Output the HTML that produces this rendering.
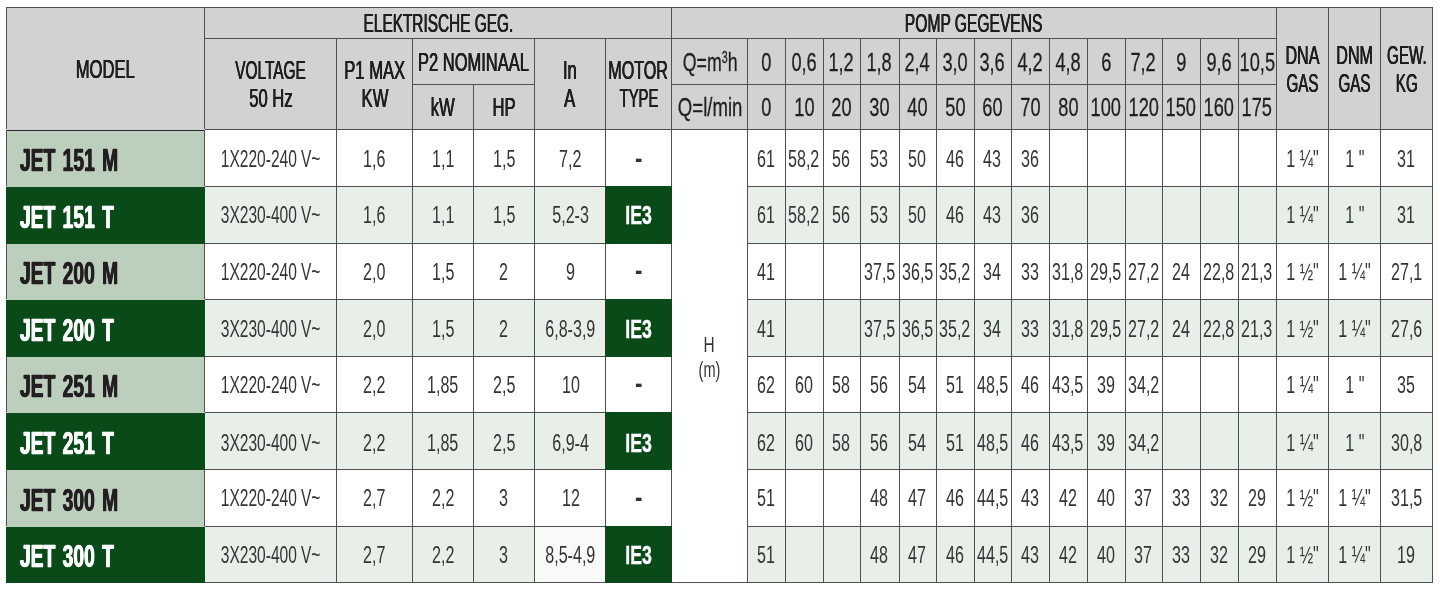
<!DOCTYPE html>
<html lang="nl">
<head>
<meta charset="utf-8">
<title>JET pomp gegevens</title>
<style>
html,body{margin:0;padding:0;background:#fff;}
body{width:1442px;height:591px;overflow:hidden;position:relative;font-family:"Liberation Sans",sans-serif;color:#343436;}
table{position:absolute;left:6px;top:7px;border-collapse:collapse;table-layout:fixed;width:1426px;}
td,th{border:1px solid #505052;padding:0;margin:0;font-weight:normal;overflow:visible;background:#fff;}
th{background:#d0d2d4;}
.c{display:flex;flex-direction:column;justify-content:center;align-items:center;width:100%;height:100%;white-space:nowrap;}
.t{display:block;transform-origin:50% 50%;font-size:23.3px;line-height:26px;text-align:center;flex:none;position:relative;}
th .t{font-size:26px;line-height:27.6px;color:#1f1f22;-webkit-text-stroke:.22px #1f1f22;text-shadow:.4px 0 0 #1f1f22,-.4px 0 0 #1f1f22;top:1px;}
th .t.d{text-shadow:none;-webkit-text-stroke:.28px #1f1f22;}
tr.alt td{background:#e8efe9;}
td.m{background:#bccfbd !important;}
td.m .c{align-items:flex-start;}
th.mh{border-bottom-color:#d0d2d4;}
tr.first td.m{background:linear-gradient(#2a2a2c,#2a2a2c) 0 0/100% 1px no-repeat,#bccfbd !important;}
td.m{border-bottom-color:#bccfbd;}
tr.alt td.m{border-bottom-color:#094a18;}
tr.alt td.m{border-left-color:#094a18;border-right-color:#094a18;}
td.m .t{font-weight:bold;font-size:30.5px;line-height:34px;transform-origin:0 50%;margin-left:13px;top:1.5px;word-spacing:3px;color:#231f20;-webkit-text-stroke:.3px #231f20;text-shadow:.6px 0 0 #231f20,-.6px 0 0 #231f20;}
tr.alt td.m{background:#094a18 !important;}
tr.alt td.m .t{color:#fff;-webkit-text-stroke:.3px #fff;text-shadow:.6px 0 0 #fff,-.6px 0 0 #fff;}
td.ie{background:#094a18 !important;border:1px double #094a18;}
td.ie .t{color:#fff;font-weight:bold;font-size:26px;-webkit-text-stroke:.4px #fff;}
td.v .t{word-spacing:-.5px;left:0;}
tr.alt td.w{background:#f7faf7;}
td .t{left:-.3px;}
td.p .t{left:-.8px;}
td.i .t{left:.6px;}
td.m .t,td.ie .t,td.dash .t{left:0;}
tr.r1 td:not(.m):not(.h) .t{top:1px;}
tr.r4 td:not(.m) .t{top:.5px;}
tr.r6 td:not(.m) .t{top:1.5px;}
th .t.d{left:-.6px;}
th .t.q{left:.5px;-webkit-text-stroke:.3px #1f1f22;}
td.h{background:#fff !important;}
td.h .t{font-size:22px;line-height:25px;top:1px;}
td.dash .t{font-weight:bold;font-size:28px;top:-.5px;}
sup{font-size:60%;vertical-align:baseline;position:relative;top:-.5em;line-height:0;}
</style>
</head>
<body>
<table>
<colgroup>
<col style="width:198px"><col style="width:132px"><col style="width:76px"><col style="width:61px"><col style="width:61px"><col style="width:71px"><col style="width:66px"><col style="width:76px"><col style="width:38px"><col style="width:38px"><col style="width:37px"><col style="width:39px"><col style="width:37px"><col style="width:38px"><col style="width:37px"><col style="width:38px"><col style="width:38px"><col style="width:38px"><col style="width:37px"><col style="width:38px"><col style="width:38px"><col style="width:38px"><col style="width:52px"><col style="width:52px"><col style="width:52px">
</colgroup>
<tr style="height:31px"><th class="mh" rowspan="3"><div class="c"><span class="t" style="transform:scaleX(0.640)">MODEL</span></div></th><th colspan="6"><div class="c"><span class="t" style="transform:scaleX(0.592)">ELEKTRISCHE GEG.</span></div></th><th colspan="15"><div class="c"><span class="t" style="transform:scaleX(0.600)">POMP GEGEVENS</span></div></th><th rowspan="3"><div class="c"><span class="t" style="transform:scaleX(0.620)">DNA</span><span class="t" style="transform:scaleX(0.585)">GAS</span></div></th><th rowspan="3"><div class="c"><span class="t" style="transform:scaleX(0.620)">DNM</span><span class="t" style="transform:scaleX(0.585)">GAS</span></div></th><th rowspan="3"><div class="c"><span class="t" style="transform:scaleX(0.585)">GEW.</span><span class="t" style="transform:scaleX(0.585)">KG</span></div></th></tr>
<tr style="height:46px"><th rowspan="2"><div class="c"><span class="t" style="transform:scaleX(0.593)">VOLTAGE</span><span class="t" style="transform:scaleX(0.640)">50 Hz</span></div></th><th rowspan="2"><div class="c"><span class="t" style="transform:scaleX(0.639)">P1 MAX</span><span class="t" style="transform:scaleX(0.640)">KW</span></div></th><th colspan="2"><div class="c"><span class="t" style="transform:scaleX(0.634)">P2 NOMINAAL</span></div></th><th rowspan="2"><div class="c"><span class="t" style="transform:scaleX(0.640)">In</span><span class="t" style="transform:scaleX(0.640)">A</span></div></th><th rowspan="2"><div class="c"><span class="t" style="transform:scaleX(0.620)">MOTOR</span><span class="t" style="transform:scaleX(0.570)">TYPE</span></div></th><th><div class="c"><span class="t d q" style="transform:scaleX(0.683)">Q=m<sup>3</sup>h</span></div></th><th><div class="c"><span class="t d" style="transform:scaleX(0.700)">0</span></div></th><th><div class="c"><span class="t d" style="transform:scaleX(0.700)">0,6</span></div></th><th><div class="c"><span class="t d" style="transform:scaleX(0.700)">1,2</span></div></th><th><div class="c"><span class="t d" style="transform:scaleX(0.700)">1,8</span></div></th><th><div class="c"><span class="t d" style="transform:scaleX(0.700)">2,4</span></div></th><th><div class="c"><span class="t d" style="transform:scaleX(0.700)">3,0</span></div></th><th><div class="c"><span class="t d" style="transform:scaleX(0.700)">3,6</span></div></th><th><div class="c"><span class="t d" style="transform:scaleX(0.700)">4,2</span></div></th><th><div class="c"><span class="t d" style="transform:scaleX(0.700)">4,8</span></div></th><th><div class="c"><span class="t d" style="transform:scaleX(0.700)">6</span></div></th><th><div class="c"><span class="t d" style="transform:scaleX(0.700)">7,2</span></div></th><th><div class="c"><span class="t d" style="transform:scaleX(0.700)">9</span></div></th><th><div class="c"><span class="t d" style="transform:scaleX(0.700)">9,6</span></div></th><th><div class="c"><span class="t d" style="transform:scaleX(0.700)">10,5</span></div></th></tr>
<tr style="height:45px"><th><div class="c"><span class="t" style="transform:scaleX(0.640)">kW</span></div></th><th><div class="c"><span class="t" style="transform:scaleX(0.640)">HP</span></div></th><th><div class="c"><span class="t d q" style="transform:scaleX(0.715)">Q=l/min</span></div></th><th><div class="c"><span class="t d" style="transform:scaleX(0.700)">0</span></div></th><th><div class="c"><span class="t d" style="transform:scaleX(0.700)">10</span></div></th><th><div class="c"><span class="t d" style="transform:scaleX(0.700)">20</span></div></th><th><div class="c"><span class="t d" style="transform:scaleX(0.700)">30</span></div></th><th><div class="c"><span class="t d" style="transform:scaleX(0.700)">40</span></div></th><th><div class="c"><span class="t d" style="transform:scaleX(0.700)">50</span></div></th><th><div class="c"><span class="t d" style="transform:scaleX(0.700)">60</span></div></th><th><div class="c"><span class="t d" style="transform:scaleX(0.700)">70</span></div></th><th><div class="c"><span class="t d" style="transform:scaleX(0.700)">80</span></div></th><th><div class="c"><span class="t d" style="transform:scaleX(0.700)">100</span></div></th><th><div class="c"><span class="t d" style="transform:scaleX(0.700)">120</span></div></th><th><div class="c"><span class="t d" style="transform:scaleX(0.700)">150</span></div></th><th><div class="c"><span class="t d" style="transform:scaleX(0.700)">160</span></div></th><th><div class="c"><span class="t d" style="transform:scaleX(0.700)">175</span></div></th></tr>
<tr class="first r1" style="height:57px"><td class="m"><div class="c"><span class="t" style="transform:scaleX(0.632)">JET 151 M</span></div></td><td class="v"><div class="c"><span class="t" style="transform:scaleX(0.668)">1X220-240 V~</span></div></td><td><div class="c"><span class="t" style="transform:scaleX(0.690)">1,6</span></div></td><td><div class="c"><span class="t" style="transform:scaleX(0.690)">1,1</span></div></td><td><div class="c"><span class="t" style="transform:scaleX(0.690)">1,5</span></div></td><td class="i"><div class="c"><span class="t" style="transform:scaleX(0.690)">7,2</span></div></td><td class="dash"><div class="c"><span class="t" style="transform:scaleX(0.800)">-</span></div></td><td class="h" rowspan="8"><div class="c"><span class="t" style="transform:scaleX(0.700)">H</span><span class="t" style="transform:scaleX(0.660)">(m)</span></div></td><td class="p"><div class="c"><span class="t" style="transform:scaleX(0.690)">61</span></div></td><td class="p"><div class="c"><span class="t" style="transform:scaleX(0.690)">58,2</span></div></td><td class="p"><div class="c"><span class="t" style="transform:scaleX(0.690)">56</span></div></td><td class="p"><div class="c"><span class="t" style="transform:scaleX(0.690)">53</span></div></td><td class="p"><div class="c"><span class="t" style="transform:scaleX(0.690)">50</span></div></td><td class="p"><div class="c"><span class="t" style="transform:scaleX(0.690)">46</span></div></td><td class="p"><div class="c"><span class="t" style="transform:scaleX(0.690)">43</span></div></td><td class="p"><div class="c"><span class="t" style="transform:scaleX(0.690)">36</span></div></td><td class="p"></td><td class="p"></td><td class="p"></td><td class="p"></td><td class="p"></td><td class="p"></td><td><div class="c"><span class="t" style="transform:scaleX(0.690)">1 ¼&quot;</span></div></td><td><div class="c"><span class="t" style="transform:scaleX(0.690)">1 &quot;</span></div></td><td><div class="c"><span class="t" style="transform:scaleX(0.690)">31</span></div></td></tr>
<tr class="alt r2" style="height:57px"><td class="m"><div class="c"><span class="t" style="transform:scaleX(0.632)">JET 151 T</span></div></td><td class="v"><div class="c"><span class="t" style="transform:scaleX(0.668)">3X230-400 V~</span></div></td><td><div class="c"><span class="t" style="transform:scaleX(0.690)">1,6</span></div></td><td><div class="c"><span class="t" style="transform:scaleX(0.690)">1,1</span></div></td><td><div class="c"><span class="t" style="transform:scaleX(0.690)">1,5</span></div></td><td class="i"><div class="c"><span class="t" style="transform:scaleX(0.690)">5,2-3</span></div></td><td class="ie"><div class="c"><span class="t" style="transform:scaleX(0.680)">IE3</span></div></td><td class="p"><div class="c"><span class="t" style="transform:scaleX(0.690)">61</span></div></td><td class="p"><div class="c"><span class="t" style="transform:scaleX(0.690)">58,2</span></div></td><td class="p"><div class="c"><span class="t" style="transform:scaleX(0.690)">56</span></div></td><td class="p"><div class="c"><span class="t" style="transform:scaleX(0.690)">53</span></div></td><td class="p"><div class="c"><span class="t" style="transform:scaleX(0.690)">50</span></div></td><td class="p"><div class="c"><span class="t" style="transform:scaleX(0.690)">46</span></div></td><td class="p"><div class="c"><span class="t" style="transform:scaleX(0.690)">43</span></div></td><td class="p"><div class="c"><span class="t" style="transform:scaleX(0.690)">36</span></div></td><td class="p"></td><td class="p"></td><td class="p"></td><td class="p"></td><td class="p"></td><td class="p"></td><td><div class="c"><span class="t" style="transform:scaleX(0.690)">1 ¼&quot;</span></div></td><td><div class="c"><span class="t" style="transform:scaleX(0.690)">1 &quot;</span></div></td><td><div class="c"><span class="t" style="transform:scaleX(0.690)">31</span></div></td></tr>
<tr class="r3" style="height:56px"><td class="m"><div class="c"><span class="t" style="transform:scaleX(0.632)">JET 200 M</span></div></td><td class="v"><div class="c"><span class="t" style="transform:scaleX(0.668)">1X220-240 V~</span></div></td><td><div class="c"><span class="t" style="transform:scaleX(0.690)">2,0</span></div></td><td><div class="c"><span class="t" style="transform:scaleX(0.690)">1,5</span></div></td><td><div class="c"><span class="t" style="transform:scaleX(0.690)">2</span></div></td><td class="i"><div class="c"><span class="t" style="transform:scaleX(0.690)">9</span></div></td><td class="dash"><div class="c"><span class="t" style="transform:scaleX(0.800)">-</span></div></td><td class="p"><div class="c"><span class="t" style="transform:scaleX(0.690)">41</span></div></td><td class="p"></td><td class="p"></td><td class="p"><div class="c"><span class="t" style="transform:scaleX(0.690)">37,5</span></div></td><td class="p"><div class="c"><span class="t" style="transform:scaleX(0.690)">36,5</span></div></td><td class="p"><div class="c"><span class="t" style="transform:scaleX(0.690)">35,2</span></div></td><td class="p"><div class="c"><span class="t" style="transform:scaleX(0.690)">34</span></div></td><td class="p"><div class="c"><span class="t" style="transform:scaleX(0.690)">33</span></div></td><td class="p"><div class="c"><span class="t" style="transform:scaleX(0.690)">31,8</span></div></td><td class="p"><div class="c"><span class="t" style="transform:scaleX(0.690)">29,5</span></div></td><td class="p"><div class="c"><span class="t" style="transform:scaleX(0.690)">27,2</span></div></td><td class="p"><div class="c"><span class="t" style="transform:scaleX(0.690)">24</span></div></td><td class="p"><div class="c"><span class="t" style="transform:scaleX(0.690)">22,8</span></div></td><td class="p"><div class="c"><span class="t" style="transform:scaleX(0.690)">21,3</span></div></td><td><div class="c"><span class="t" style="transform:scaleX(0.690)">1 ½&quot;</span></div></td><td><div class="c"><span class="t" style="transform:scaleX(0.690)">1 ¼&quot;</span></div></td><td><div class="c"><span class="t" style="transform:scaleX(0.690)">27,1</span></div></td></tr>
<tr class="alt r4" style="height:57px"><td class="m"><div class="c"><span class="t" style="transform:scaleX(0.632)">JET 200 T</span></div></td><td class="v"><div class="c"><span class="t" style="transform:scaleX(0.668)">3X230-400 V~</span></div></td><td><div class="c"><span class="t" style="transform:scaleX(0.690)">2,0</span></div></td><td><div class="c"><span class="t" style="transform:scaleX(0.690)">1,5</span></div></td><td><div class="c"><span class="t" style="transform:scaleX(0.690)">2</span></div></td><td class="i"><div class="c"><span class="t" style="transform:scaleX(0.690)">6,8-3,9</span></div></td><td class="ie"><div class="c"><span class="t" style="transform:scaleX(0.680)">IE3</span></div></td><td class="p"><div class="c"><span class="t" style="transform:scaleX(0.690)">41</span></div></td><td class="p"></td><td class="p"></td><td class="p"><div class="c"><span class="t" style="transform:scaleX(0.690)">37,5</span></div></td><td class="p"><div class="c"><span class="t" style="transform:scaleX(0.690)">36,5</span></div></td><td class="p"><div class="c"><span class="t" style="transform:scaleX(0.690)">35,2</span></div></td><td class="p"><div class="c"><span class="t" style="transform:scaleX(0.690)">34</span></div></td><td class="p"><div class="c"><span class="t" style="transform:scaleX(0.690)">33</span></div></td><td class="p"><div class="c"><span class="t" style="transform:scaleX(0.690)">31,8</span></div></td><td class="p"><div class="c"><span class="t" style="transform:scaleX(0.690)">29,5</span></div></td><td class="p"><div class="c"><span class="t" style="transform:scaleX(0.690)">27,2</span></div></td><td class="p"><div class="c"><span class="t" style="transform:scaleX(0.690)">24</span></div></td><td class="p"><div class="c"><span class="t" style="transform:scaleX(0.690)">22,8</span></div></td><td class="p"><div class="c"><span class="t" style="transform:scaleX(0.690)">21,3</span></div></td><td><div class="c"><span class="t" style="transform:scaleX(0.690)">1 ½&quot;</span></div></td><td><div class="c"><span class="t" style="transform:scaleX(0.690)">1 ¼&quot;</span></div></td><td><div class="c"><span class="t" style="transform:scaleX(0.690)">27,6</span></div></td></tr>
<tr class="r5" style="height:56px"><td class="m"><div class="c"><span class="t" style="transform:scaleX(0.632)">JET 251 M</span></div></td><td class="v"><div class="c"><span class="t" style="transform:scaleX(0.668)">1X220-240 V~</span></div></td><td><div class="c"><span class="t" style="transform:scaleX(0.690)">2,2</span></div></td><td><div class="c"><span class="t" style="transform:scaleX(0.690)">1,85</span></div></td><td><div class="c"><span class="t" style="transform:scaleX(0.690)">2,5</span></div></td><td class="i"><div class="c"><span class="t" style="transform:scaleX(0.690)">10</span></div></td><td class="dash"><div class="c"><span class="t" style="transform:scaleX(0.800)">-</span></div></td><td class="p"><div class="c"><span class="t" style="transform:scaleX(0.690)">62</span></div></td><td class="p"><div class="c"><span class="t" style="transform:scaleX(0.690)">60</span></div></td><td class="p"><div class="c"><span class="t" style="transform:scaleX(0.690)">58</span></div></td><td class="p"><div class="c"><span class="t" style="transform:scaleX(0.690)">56</span></div></td><td class="p"><div class="c"><span class="t" style="transform:scaleX(0.690)">54</span></div></td><td class="p"><div class="c"><span class="t" style="transform:scaleX(0.690)">51</span></div></td><td class="p"><div class="c"><span class="t" style="transform:scaleX(0.690)">48,5</span></div></td><td class="p"><div class="c"><span class="t" style="transform:scaleX(0.690)">46</span></div></td><td class="p"><div class="c"><span class="t" style="transform:scaleX(0.690)">43,5</span></div></td><td class="p"><div class="c"><span class="t" style="transform:scaleX(0.690)">39</span></div></td><td class="p"><div class="c"><span class="t" style="transform:scaleX(0.690)">34,2</span></div></td><td class="p"></td><td class="p"></td><td class="p"></td><td><div class="c"><span class="t" style="transform:scaleX(0.690)">1 ¼&quot;</span></div></td><td><div class="c"><span class="t" style="transform:scaleX(0.690)">1 &quot;</span></div></td><td><div class="c"><span class="t" style="transform:scaleX(0.690)">35</span></div></td></tr>
<tr class="alt r6" style="height:57px"><td class="m"><div class="c"><span class="t" style="transform:scaleX(0.632)">JET 251 T</span></div></td><td class="v"><div class="c"><span class="t" style="transform:scaleX(0.668)">3X230-400 V~</span></div></td><td><div class="c"><span class="t" style="transform:scaleX(0.690)">2,2</span></div></td><td><div class="c"><span class="t" style="transform:scaleX(0.690)">1,85</span></div></td><td><div class="c"><span class="t" style="transform:scaleX(0.690)">2,5</span></div></td><td class="i"><div class="c"><span class="t" style="transform:scaleX(0.690)">6,9-4</span></div></td><td class="ie"><div class="c"><span class="t" style="transform:scaleX(0.680)">IE3</span></div></td><td class="p"><div class="c"><span class="t" style="transform:scaleX(0.690)">62</span></div></td><td class="p"><div class="c"><span class="t" style="transform:scaleX(0.690)">60</span></div></td><td class="p"><div class="c"><span class="t" style="transform:scaleX(0.690)">58</span></div></td><td class="p"><div class="c"><span class="t" style="transform:scaleX(0.690)">56</span></div></td><td class="p"><div class="c"><span class="t" style="transform:scaleX(0.690)">54</span></div></td><td class="p"><div class="c"><span class="t" style="transform:scaleX(0.690)">51</span></div></td><td class="p"><div class="c"><span class="t" style="transform:scaleX(0.690)">48,5</span></div></td><td class="p"><div class="c"><span class="t" style="transform:scaleX(0.690)">46</span></div></td><td class="p"><div class="c"><span class="t" style="transform:scaleX(0.690)">43,5</span></div></td><td class="p"><div class="c"><span class="t" style="transform:scaleX(0.690)">39</span></div></td><td class="p"><div class="c"><span class="t" style="transform:scaleX(0.690)">34,2</span></div></td><td class="p"></td><td class="p"></td><td class="p"></td><td><div class="c"><span class="t" style="transform:scaleX(0.690)">1 ¼&quot;</span></div></td><td><div class="c"><span class="t" style="transform:scaleX(0.690)">1 &quot;</span></div></td><td><div class="c"><span class="t" style="transform:scaleX(0.690)">30,8</span></div></td></tr>
<tr class="r7" style="height:57px"><td class="m"><div class="c"><span class="t" style="transform:scaleX(0.632)">JET 300 M</span></div></td><td class="v"><div class="c"><span class="t" style="transform:scaleX(0.668)">1X220-240 V~</span></div></td><td><div class="c"><span class="t" style="transform:scaleX(0.690)">2,7</span></div></td><td><div class="c"><span class="t" style="transform:scaleX(0.690)">2,2</span></div></td><td><div class="c"><span class="t" style="transform:scaleX(0.690)">3</span></div></td><td class="i"><div class="c"><span class="t" style="transform:scaleX(0.690)">12</span></div></td><td class="dash"><div class="c"><span class="t" style="transform:scaleX(0.800)">-</span></div></td><td class="p"><div class="c"><span class="t" style="transform:scaleX(0.690)">51</span></div></td><td class="p"></td><td class="p"></td><td class="p"><div class="c"><span class="t" style="transform:scaleX(0.690)">48</span></div></td><td class="p"><div class="c"><span class="t" style="transform:scaleX(0.690)">47</span></div></td><td class="p"><div class="c"><span class="t" style="transform:scaleX(0.690)">46</span></div></td><td class="p"><div class="c"><span class="t" style="transform:scaleX(0.690)">44,5</span></div></td><td class="p"><div class="c"><span class="t" style="transform:scaleX(0.690)">43</span></div></td><td class="p"><div class="c"><span class="t" style="transform:scaleX(0.690)">42</span></div></td><td class="p"><div class="c"><span class="t" style="transform:scaleX(0.690)">40</span></div></td><td class="p"><div class="c"><span class="t" style="transform:scaleX(0.690)">37</span></div></td><td class="p"><div class="c"><span class="t" style="transform:scaleX(0.690)">33</span></div></td><td class="p"><div class="c"><span class="t" style="transform:scaleX(0.690)">32</span></div></td><td class="p"><div class="c"><span class="t" style="transform:scaleX(0.690)">29</span></div></td><td><div class="c"><span class="t" style="transform:scaleX(0.690)">1 ½&quot;</span></div></td><td><div class="c"><span class="t" style="transform:scaleX(0.690)">1 ¼&quot;</span></div></td><td><div class="c"><span class="t" style="transform:scaleX(0.690)">31,5</span></div></td></tr>
<tr class="alt r8" style="height:56px"><td class="m"><div class="c"><span class="t" style="transform:scaleX(0.632)">JET 300 T</span></div></td><td class="v"><div class="c"><span class="t" style="transform:scaleX(0.668)">3X230-400 V~</span></div></td><td><div class="c"><span class="t" style="transform:scaleX(0.690)">2,7</span></div></td><td><div class="c"><span class="t" style="transform:scaleX(0.690)">2,2</span></div></td><td><div class="c"><span class="t" style="transform:scaleX(0.690)">3</span></div></td><td class="w i"><div class="c"><span class="t" style="transform:scaleX(0.690)">8,5-4,9</span></div></td><td class="ie"><div class="c"><span class="t" style="transform:scaleX(0.680)">IE3</span></div></td><td class="p"><div class="c"><span class="t" style="transform:scaleX(0.690)">51</span></div></td><td class="p"></td><td class="p"></td><td class="p"><div class="c"><span class="t" style="transform:scaleX(0.690)">48</span></div></td><td class="p"><div class="c"><span class="t" style="transform:scaleX(0.690)">47</span></div></td><td class="p"><div class="c"><span class="t" style="transform:scaleX(0.690)">46</span></div></td><td class="p"><div class="c"><span class="t" style="transform:scaleX(0.690)">44,5</span></div></td><td class="p"><div class="c"><span class="t" style="transform:scaleX(0.690)">43</span></div></td><td class="p"><div class="c"><span class="t" style="transform:scaleX(0.690)">42</span></div></td><td class="p"><div class="c"><span class="t" style="transform:scaleX(0.690)">40</span></div></td><td class="p"><div class="c"><span class="t" style="transform:scaleX(0.690)">37</span></div></td><td class="p"><div class="c"><span class="t" style="transform:scaleX(0.690)">33</span></div></td><td class="p"><div class="c"><span class="t" style="transform:scaleX(0.690)">32</span></div></td><td class="p"><div class="c"><span class="t" style="transform:scaleX(0.690)">29</span></div></td><td><div class="c"><span class="t" style="transform:scaleX(0.690)">1 ½&quot;</span></div></td><td><div class="c"><span class="t" style="transform:scaleX(0.690)">1 ¼&quot;</span></div></td><td><div class="c"><span class="t" style="transform:scaleX(0.690)">19</span></div></td></tr>
</table>
</body>
</html>
